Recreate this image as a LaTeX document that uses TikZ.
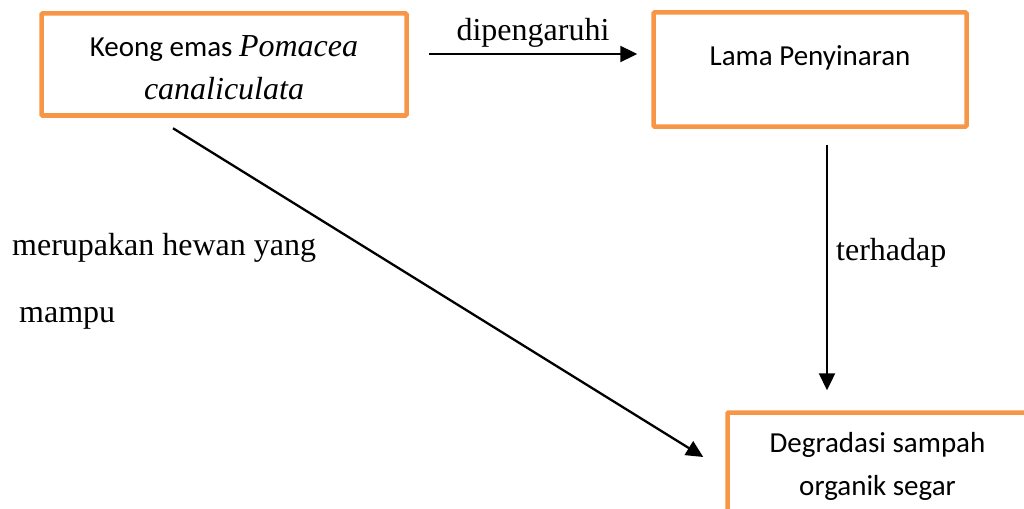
\documentclass[tikz,border=0pt]{standalone}
\usepackage{fontspec}
\setmainfont{Liberation Serif}
\newfontfamily\calibri{Carlito}
\usetikzlibrary{arrows.meta}
\definecolor{boxorange}{HTML}{F79646}

\begin{document}
\begin{tikzpicture}[x=1pt, y=-1pt,
  box/.style = {shape=rectangle, draw=boxorange, line width=4.5pt, rounded corners=1pt,
    align=center, inner sep=0pt, font=\calibri\fontsize{29}{43}\selectfont},
  arr/.style = {-{Triangle[length=17pt,width=16pt]}, line width=2.3pt},
  lbl/.style = {inner sep=0pt, font=\fontsize{32}{40}\selectfont}]

  \clip (0,0) rectangle (1024,508);

  \node [box, minimum width=365, minimum height=102] (keong) at (224,64.5)
    {\rule{0pt}{28pt}Keong emas {\rmfamily\itshape\fontsize{32}{43}\selectfont Pomacea}\\{\rmfamily\itshape\fontsize{32}{43}\selectfont canaliculata}};
  \node [box, minimum width=313, minimum height=114, text height=20pt, text depth=27pt] (lama) at (810,69.5)
    {Lama Penyinaran};
  \node [box, minimum width=300, minimum height=107] (degradasi) at (877.5,466)
    {Degradasi sampah\\organik segar};

  \draw [arr] ([shift={(20,-10.5)}]keong.east) -- ([shift={(-14,-15.5)}]lama.west)
    node [lbl, midway, above=5pt] (dipengaruhi) {dipengaruhi};
  \draw [arr] ([shift={(17,16)}]lama.south) -- ([shift={(17,-20)}]lama.south |- degradasi.north)
    node [lbl, pos=0.44, right=8pt] (terhadap) {terhadap};
  \draw [arr] ([shift={(-51,10.5)}]keong.south) -- ([shift={(-22,-9)}]degradasi.west);

  \node [lbl, anchor=base west] (merupakan) at (12,255) {merupakan hewan yang};
  \node [lbl, anchor=base west] (mampu) at (19,322) {mampu};

\end{tikzpicture}
\end{document}
